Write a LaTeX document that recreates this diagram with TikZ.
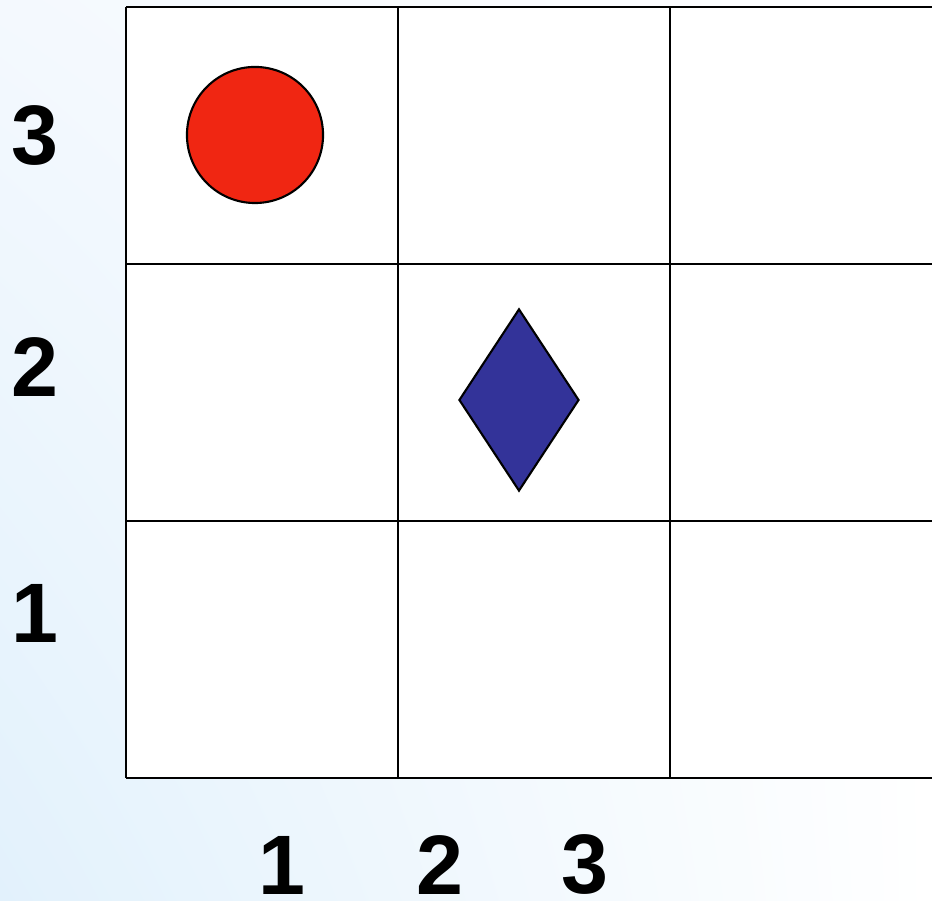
\documentclass[tikz,border=0pt]{standalone}
\usepackage{fontspec}
\setmainfont{Liberation Sans}
\usetikzlibrary{shapes.geometric,shadings,positioning}

\definecolor{dotred}{RGB}{240,38,18}
\definecolor{gemblue}{RGB}{51,51,153}
\definecolor{paleblue}{RGB}{226,241,252}
\definecolor{mistblue}{RGB}{244,249,254}

\begin{document}
\begin{tikzpicture}[x=0.01cm, y=-0.01cm,
  grid/.style={draw=black, line width=0.6pt},
  num/.style={font=\fontsize{24}{28}\selectfont\bfseries, inner sep=0pt},
  dot/.style={circle, draw=black, line width=0.6pt, fill=dotred,
              minimum size=1.36cm, inner sep=0pt},
  gem/.style={diamond, draw=black, line width=0.6pt, fill=gemblue,
              minimum width=1.2cm, minimum height=1.82cm, inner sep=0pt,
              shape aspect=0.66},
]

% Background
\useasboundingbox (0,0) rectangle (932,901);
\shade[upper left=mistblue, lower left=paleblue,
       upper right=white, lower right=white] (0,0) rectangle (932,901);
\clip (0,0) rectangle (932,901);

% Board
\fill[white] (126,7) rectangle (940,778);
\foreach \y in {7,264,521,778}
  \draw[grid] (126,\y) -- (940,\y);
\foreach \x in {126,398,670}
  \draw[grid] (\x,7) -- (\x,778);

% Pieces
\node[dot] (piece) at (255,135) {};
\node[gem] (gem) at (519,400) {};

% Row numbers
\node[num] (row3) at (35,136) {3};
\node[num] (row2) at (35,367) {2};
\node[num] (row1) at (35,613) {1};

% Column numbers
\node[num] (col1) at (282,865) {1};
\node[num] (col2) at (440,865) {2};
\node[num] (col3) at (585,865) {3};

\end{tikzpicture}
\end{document}
